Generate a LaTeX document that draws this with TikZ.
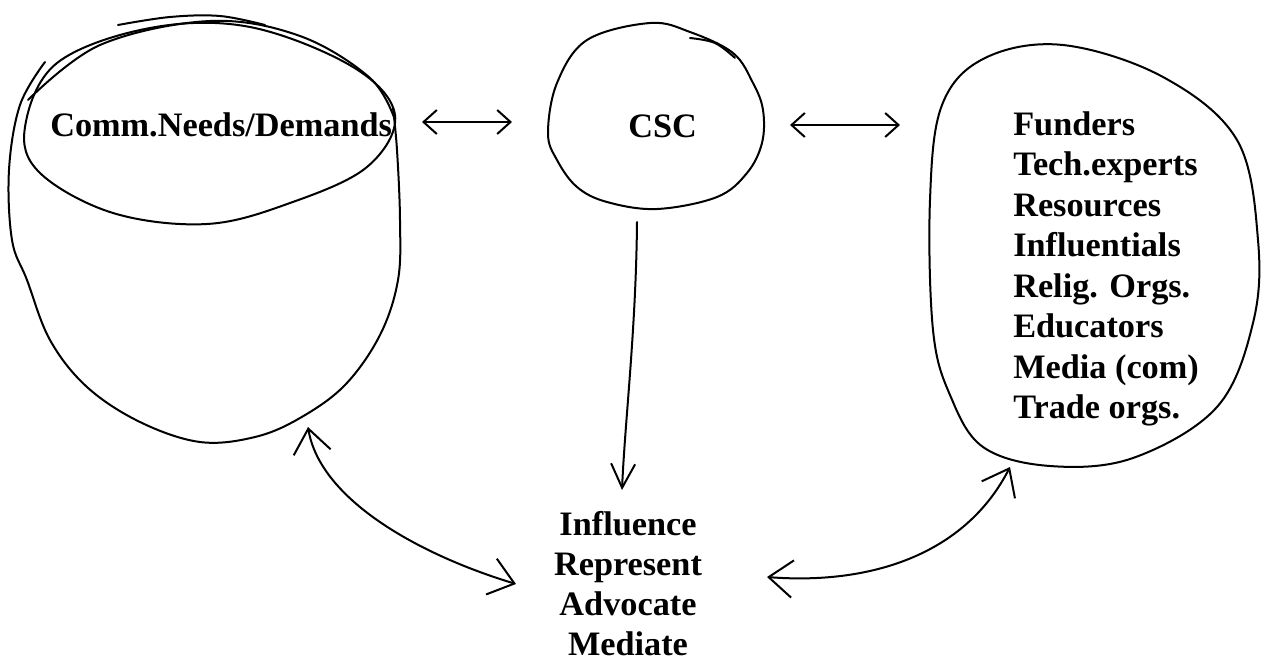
\documentclass[tikz,border=0pt]{standalone}
\usepackage{fontspec}
\setmainfont{Liberation Serif}
\usetikzlibrary{arrows.meta}

\begin{document}
\begin{tikzpicture}[x=0.75pt,y=-0.75pt,
    pen/.style={line width=1.5pt, line cap=round, line join=round},
    hand/.style={pen, <->, >={Straight Barb[length=10pt,width=18pt]}},
    handbig/.style={pen, <->, >={Straight Barb[length=18pt,width=28pt]}},
    lbl/.style={font=\bfseries\fontsize{25.7}{30}\selectfont, inner sep=0pt}]
    \useasboundingbox (0,0) rectangle (1261,661);
    % community needs (cylinder)
    \draw[pen] plot[smooth cycle, tension=0.6] coordinates {(25,127) (40,173) (113,213) (207,224) (290,203) (367,167) (395,115) (353,67) (250,27) (150,28) (57,63)};
    \draw[pen] plot[smooth, tension=0.6] coordinates {(28,100) (100,45) (210,21) (300,36) (370,78) (395,120)};
    \draw[pen] plot[smooth, tension=0.6] coordinates {(118,25) (170,17) (220,16) (265,25)};
    \draw[pen] plot[smooth, tension=0.6] coordinates {(45,62) (20,105) (9,170) (12,240) (27,280) (50,340) (87,387) (140,422) (200,442) (255,437) (300,418) (345,385) (380,335) (398,280) (400,220) (397,150) (393,108)};
    % CSC circle
    \draw[pen] plot[smooth cycle, tension=0.6] coordinates {(548,133) (557,83) (587,40) (650,23) (690,32) (733,53) (753,83) (763,110) (762,143) (747,173) (717,197) (657,209) (607,202) (577,187) (557,160)};
    \draw[pen] plot[smooth, tension=0.6] coordinates {(690,38) (715,43) (735,58)};
    % partners blob
    \draw[pen] plot[smooth cycle, tension=0.6] coordinates {(930,200) (942,105) (985,58) (1063,45) (1163,77) (1237,140) (1258,240) (1253,323) (1217,407) (1133,458) (1050,466) (983,447) (950,395) (933,330)};

    \node[lbl, anchor=base west] (needs) at (50,136) {Comm.Needs/Demands};
    \node[lbl, anchor=base west] (csc) at (628,137) {CSC};
    \foreach \txt [count=\i] in {Funders,Tech.experts,Resources,Influentials,Relig. Orgs.,Educators,Media (com),Trade orgs.}
        \node[lbl, anchor=base west] (res\i) at (1013,{135+40.5*(\i-1)}) {\txt};
    \foreach \txt [count=\i] in {Influence,Represent,Advocate,Mediate}
        \node[lbl, anchor=base] (act\i) at (628,{535+40*(\i-1)}) {\txt};

    \coordinate (needsE) at (422,122);
    \coordinate (cscW) at (512,122);
    \coordinate (cscE) at (790,125);
    \coordinate (resW) at (900,125);
    \coordinate (cscS) at (637,222);
    \coordinate (actN) at (622,490);
    \coordinate (needsS) at (308,427);
    \coordinate (actW) at (516,584);
    \coordinate (actE) at (767,577);
    \coordinate (resS) at (1010,467);

    \draw[hand] (needsE) -- (cscW);
    \draw[hand] (cscE) -- (resW);
    \draw[pen, -{Straight Barb[length=18pt,width=18pt]}] (cscS) .. controls (636,330) and (625,420) .. (actN);
    \draw[handbig] (needsS) .. controls (320,500) and (420,555) .. (actW);
    \draw[handbig] (actE) .. controls (870,585) and (965,555) .. (resS);
\end{tikzpicture}
\end{document}
